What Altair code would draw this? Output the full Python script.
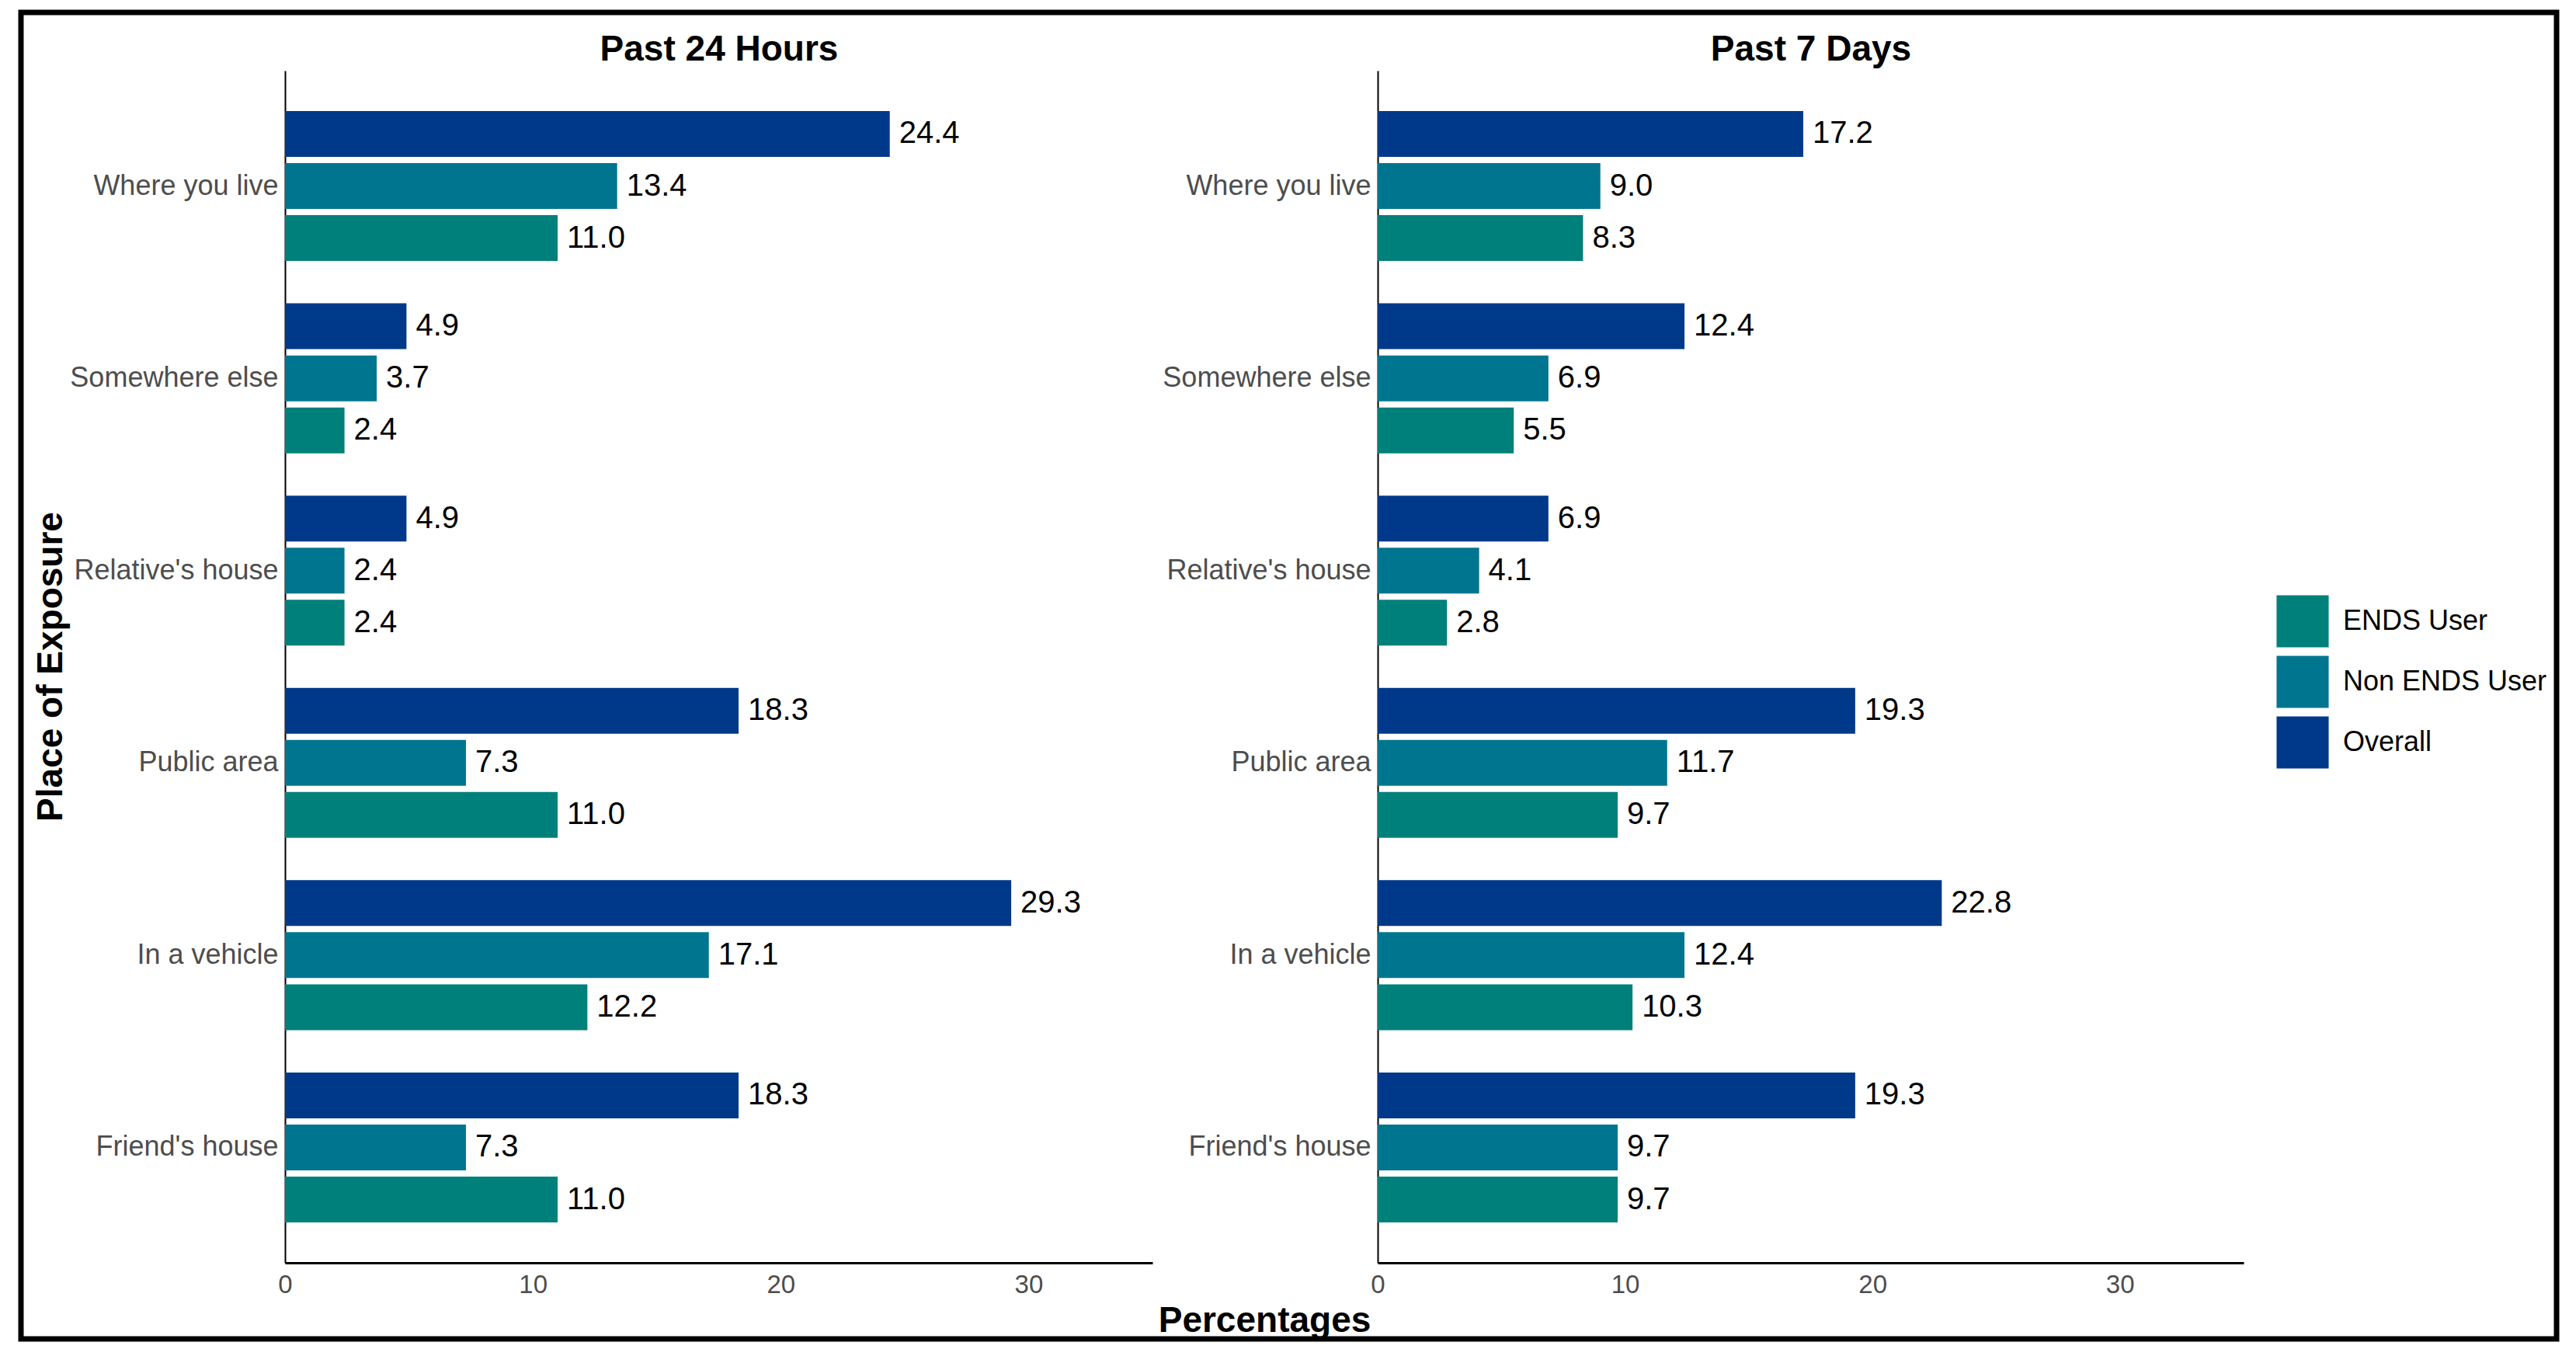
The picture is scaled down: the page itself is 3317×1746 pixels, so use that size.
import altair as alt
import pandas as pd

# ---------------- data ----------------
places = ["Where you live", "Somewhere else", "Relative's house",
          "Public area", "In a vehicle", "Friend's house"]
groups = ["ENDS User", "Non ENDS User", "Overall"]          # legend order
bar_order = ["Overall", "Non ENDS User", "ENDS User"]       # top -> bottom in each group
group_colors = ["#00807A", "#00758F", "#00388A"]
panels = ["Past 24 Hours", "Past 7 Days"]

p24_overall = [24.4, 4.9, 4.9, 18.3, 29.3, 18.3]
p24_non_ends = [13.4, 3.7, 2.4, 7.3, 17.1, 7.3]
p24_ends = [11.0, 2.4, 2.4, 11.0, 12.2, 11.0]

p7_overall = [17.2, 12.4, 6.9, 19.3, 22.8, 19.3]
p7_non_ends = [9.0, 6.9, 4.1, 11.7, 12.4, 9.7]
p7_ends = [8.3, 5.5, 2.8, 9.7, 10.3, 9.7]

x_ticks = [0, 10, 20, 30]


def make_df(overall, non_ends, ends):
    rows = []
    for i, p in enumerate(places):
        rows.append({"place": p, "group": "Overall", "value": overall[i]})
        rows.append({"place": p, "group": "Non ENDS User", "value": non_ends[i]})
        rows.append({"place": p, "group": "ENDS User", "value": ends[i]})
    return pd.DataFrame(rows)


df24 = make_df(p24_overall, p24_non_ends, p24_ends)
df7 = make_df(p7_overall, p7_non_ends, p7_ends)

# ---------------- layout (pixels inside the framed view) ----------------
FONT = "Liberation Sans"
W, H = 3265, 1708
Y_RANGE = [75, 1610]
LEFT_RANGE = [340, 1457]
RIGHT_RANGE = [1747, 2862]
X_AXIS_OFFSET = -98


def panel(df, xrange, y_offset, y_title, panel_title, x_title):
    xscale = alt.Scale(domain=[0, 35], range=xrange, nice=False, zero=True)
    yscale = alt.Scale(domain=places, range=Y_RANGE,
                       paddingInner=0.22, paddingOuter=0.21)
    yaxis_kw = dict(orient="left", offset=y_offset, ticks=False, grid=False,
                    domainColor="black", domainWidth=2,
                    labelFont=FONT, labelFontSize=36, labelColor="#4D4D4D",
                    labelPadding=9, labelLimit=500)
    if y_title:
        yaxis = alt.Axis(title=y_title, titleFont=FONT, titleFontSize=46,
                         titleFontWeight="bold", titleColor="black",
                         titleAngle=270, titleX=-288, titleY=842,
                         titleAlign="center", titleBaseline="alphabetic",
                         **yaxis_kw)
    else:
        yaxis = alt.Axis(title=None, **yaxis_kw)

    y_enc = alt.Y("place:N", scale=yscale, axis=yaxis)
    yoff = alt.YOffset("group:N", scale=alt.Scale(domain=bar_order,
                                                  paddingInner=0.12,
                                                  paddingOuter=0))

    xaxis_kw = dict(orient="bottom", offset=X_AXIS_OFFSET, values=x_ticks,
                    ticks=False, grid=False, domainColor="black",
                    domainWidth=3, labelFont=FONT, labelFontSize=33,
                    labelColor="#4D4D4D", labelPadding=12, labelFlush=False)
    if x_title:
        xaxis = alt.Axis(title=x_title, titleFont=FONT, titleFontSize=46,
                         titleFontWeight="bold", titleColor="black",
                         titleX=1601, titleY=74, titleBaseline="middle",
                         titleAlign="center", **xaxis_kw)
    else:
        xaxis = alt.Axis(title=None, **xaxis_kw)

    bars = alt.Chart(df).mark_bar().encode(
        x=alt.X("value:Q", scale=xscale, axis=xaxis),
        y=y_enc,
        yOffset=yoff,
        color=alt.Color(
            "group:N",
            scale=alt.Scale(domain=groups, range=group_colors),
            legend=alt.Legend(title=None, orient="none", legendX=2904,
                              legendY=750, symbolType="square",
                              symbolSize=4500, symbolStrokeWidth=0,
                              symbolOpacity=1, labelFont=FONT,
                              labelFontSize=36, labelColor="black",
                              labelLimit=500, labelOffset=18,
                              rowPadding=10, padding=0),
        ),
    )

    labels = alt.Chart(df).mark_text(
        align="left", baseline="middle", dx=12, font=FONT, fontSize=40,
        color="black"
    ).encode(
        x=alt.X("value:Q", scale=xscale,
                axis=alt.Axis(orient="top", offset=-Y_RANGE[0], labels=False,
                              ticks=False, domain=False, grid=False,
                              title=panel_title, titleFont=FONT,
                              titleFontSize=46, titleFontWeight="bold",
                              titleColor="black", titleBaseline="alphabetic",
                              titlePadding=14)),
        y=y_enc,
        yOffset=yoff,
        text=alt.Text("value:Q", format=".1f"),
    )
    return alt.layer(bars, labels).resolve_scale(x="independent")


left = panel(df24, LEFT_RANGE, -LEFT_RANGE[0], "Place of Exposure",
             panels[0], "Percentages")
right = panel(df7, RIGHT_RANGE, -RIGHT_RANGE[0], None, panels[1], None)

chart = alt.layer(left, right).resolve_scale(
    x="independent", y="independent", yOffset="independent"
).properties(
    width=W, height=H,
    padding={"left": 19, "top": 8, "right": 4, "bottom": 4},
    background="white",
).configure(font=FONT).configure_view(stroke="black", strokeWidth=7)

chart.save("out.html", embed_options={"renderer": "svg", "actions": False})
